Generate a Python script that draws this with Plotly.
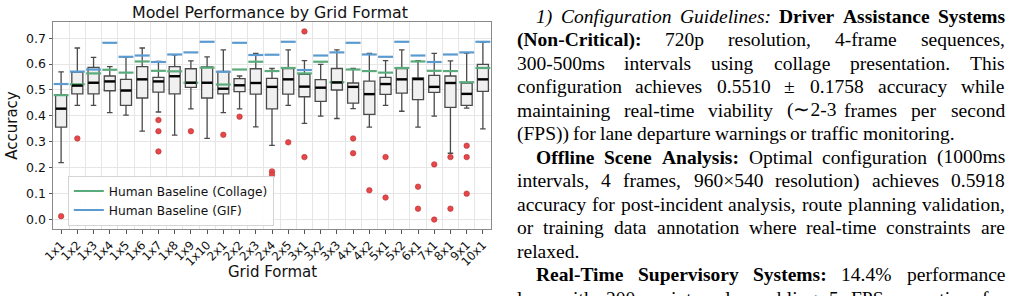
import plotly.graph_objects as go

# ---------------- data ----------------
categories = ["1x1", "1x2", "1x3", "1x4", "1x5", "1x6", "1x7", "1x8", "1x9", "1x10",
              "2x1", "2x2", "2x3", "2x4", "2x5", "3x1", "3x2", "3x3", "4x1", "4x2",
              "5x1", "5x2", "6x1", "7x1", "8x1", "9x1", "10x1"]
whisker_low = [0.220, 0.441, 0.441, 0.413, 0.403, 0.341, 0.415, 0.326, 0.427, 0.313,
               0.413, 0.427, 0.358, 0.286, 0.441, 0.371, 0.399, 0.390, 0.428, 0.357,
               0.441, 0.418, 0.357, 0.399, 0.256, 0.430, 0.350]
q1 = [0.357, 0.485, 0.485, 0.497, 0.441, 0.469, 0.492, 0.485, 0.510, 0.469,
      0.485, 0.494, 0.484, 0.427, 0.484, 0.474, 0.456, 0.500, 0.449, 0.406,
      0.483, 0.488, 0.463, 0.491, 0.433, 0.441, 0.495]
median = [0.428, 0.517, 0.528, 0.533, 0.498, 0.541, 0.533, 0.553, 0.528, 0.528,
          0.505, 0.518, 0.527, 0.512, 0.541, 0.513, 0.509, 0.529, 0.512, 0.484,
          0.523, 0.541, 0.542, 0.512, 0.527, 0.485, 0.541]
q3 = [0.482, 0.569, 0.587, 0.554, 0.541, 0.590, 0.549, 0.590, 0.582, 0.589,
      0.572, 0.544, 0.582, 0.545, 0.583, 0.560, 0.540, 0.583, 0.527, 0.534,
      0.549, 0.583, 0.547, 0.556, 0.554, 0.527, 0.599]
whisker_high = [0.570, 0.662, 0.626, 0.590, 0.626, 0.662, 0.610, 0.636, 0.612, 0.628,
                0.655, 0.554, 0.641, 0.583, 0.655, 0.613, 0.599, 0.655, 0.583, 0.641,
                0.613, 0.655, 0.613, 0.641, 0.612, 0.642, 0.684]
baseline_collage = [0.480, 0.522, 0.564, 0.578, 0.567, 0.610, 0.574, 0.572, 0.528, 0.586,
                    0.521, 0.579, 0.609, 0.573, 0.585, 0.564, 0.609, 0.530, 0.579, 0.573,
                    0.567, 0.585, 0.610, 0.574, 0.573, 0.530, 0.585]
baseline_gif = [0.523, 0.571, 0.579, 0.682, 0.628, 0.633, 0.608, 0.637, 0.645, 0.686,
                0.570, 0.682, 0.635, 0.636, 0.686, 0.577, 0.633, 0.645, 0.682, 0.637,
                0.628, 0.686, 0.633, 0.608, 0.637, 0.645, 0.686]
outlier_cat = ["1x1", "1x2", "1x7", "1x7", "1x7", "1x9", "2x1", "2x2", "2x4", "2x4",
               "2x5", "3x1", "3x1", "4x1", "4x1", "4x2", "5x1", "5x1", "6x1", "6x1",
               "7x1", "7x1", "8x1", "8x1", "9x1", "9x1", "9x1"]
outlier_val = [0.013, 0.313, 0.384, 0.341, 0.263, 0.341, 0.327, 0.397, 0.186, 0.173,
               0.298, 0.726, 0.241, 0.313, 0.256, 0.113, 0.241, 0.085, 0.127, 0.042,
               0.213, 0.000, 0.241, 0.042, 0.285, 0.241, 0.100]
y_ticks = [0.0, 0.1, 0.2, 0.3, 0.4, 0.5, 0.6, 0.7]

# --------------- text column ----------------
# each line: (list of (word, style), justified?, indented?)
text_lines = [
    ([("1)", "i"), ("Configuration", "i"), ("Guidelines:", "i"), ("Driver", "b"), ("Assistance", "b"), ("Systems", "b")], True, True),
    ([("(Non-Critical):", "b"), ("720p", "r"), ("resolution,", "r"), ("4-frame", "r"), ("sequences,", "r")], True, False),
    ([("300-500ms", "r"), ("intervals", "r"), ("using", "r"), ("collage", "r"), ("presentation.", "r"), ("This", "r")], True, False),
    ([("configuration", "r"), ("achieves", "r"), ("0.5510", "r"), ("±", "r"), ("0.1758", "r"), ("accuracy", "r"), ("while", "r")], True, False),
    ([("maintaining", "r"), ("real-time", "r"), ("viability", "r"), ("(∼2-3", "r"), ("frames", "r"), ("per", "r"), ("second", "r")], True, False),
    ([("(FPS))", "r"), ("for", "r"), ("lane", "r"), ("departure", "r"), ("warnings", "r"), ("or", "r"), ("traffic", "r"), ("monitoring.", "r")], False, False),
    ([("Offline", "b"), ("Scene", "b"), ("Analysis:", "b"), ("Optimal", "r"), ("configuration", "r"), ("(1000ms", "r")], True, True),
    ([("intervals,", "r"), ("4", "r"), ("frames,", "r"), ("960×540", "r"), ("resolution)", "r"), ("achieves", "r"), ("0.5918", "r")], True, False),
    ([("accuracy", "r"), ("for", "r"), ("post-incident", "r"), ("analysis,", "r"), ("route", "r"), ("planning", "r"), ("validation,", "r")], True, False),
    ([("or", "r"), ("training", "r"), ("data", "r"), ("annotation", "r"), ("where", "r"), ("real-time", "r"), ("constraints", "r"), ("are", "r")], True, False),
    ([("relaxed.", "r")], False, False),
    ([("Real-Time", "b"), ("Supervisory", "b"), ("Systems:", "b"), ("14.4%", "r"), ("performance", "r")], True, True),
    ([("loss", "r"), ("with", "r"), ("200ms", "r"), ("intervals", "r"), ("enabling", "r"), ("5", "r"), ("FPS", "r"), ("operation", "r"), ("for", "r")], True, False),
]

# Times metrics (1/1000 em)
def _tab(upper, lower, extra):
    t = {}
    for ch, w in zip("ABCDEFGHIJKLMNOPQRSTUVWXYZ", upper):
        t[ch] = w
    for ch, w in zip("abcdefghijklmnopqrstuvwxyz", lower):
        t[ch] = w
    for d in "0123456789":
        t[d] = 500
    t.update(extra)
    return t

REG = _tab([722, 667, 667, 722, 611, 556, 722, 722, 333, 389, 722, 611, 889, 722, 722, 556, 722, 667, 556, 611, 722, 722, 944, 722, 722, 611],
           [444, 500, 444, 500, 444, 333, 500, 500, 278, 278, 500, 278, 778, 500, 500, 500, 500, 333, 389, 278, 500, 500, 722, 500, 500, 444],
           {" ": 250, "(": 333, ")": 333, ",": 250, "-": 333, ".": 250, ":": 278, "%": 833, "±": 564, "×": 564, "∼": 541})
BOLD = _tab([722, 667, 722, 722, 667, 611, 778, 778, 389, 500, 778, 667, 944, 722, 778, 611, 778, 722, 556, 667, 722, 722, 1000, 722, 722, 667],
            [500, 556, 444, 556, 444, 333, 500, 556, 278, 333, 556, 278, 833, 556, 500, 556, 556, 444, 389, 333, 556, 500, 722, 500, 500, 444],
            {" ": 250, "(": 333, ")": 333, ",": 250, "-": 333, ".": 250, ":": 333, "%": 1000})
ITAL = _tab([611, 611, 667, 722, 611, 611, 722, 722, 333, 444, 667, 556, 833, 667, 722, 611, 722, 611, 500, 556, 722, 611, 833, 611, 556, 556],
            [500, 500, 444, 500, 444, 278, 500, 500, 278, 278, 444, 278, 722, 500, 500, 500, 500, 389, 389, 278, 500, 444, 667, 444, 444, 389],
            {" ": 250, "(": 333, ")": 333, ",": 250, "-": 333, ".": 250, ":": 333})
TABLES = {"r": REG, "b": BOLD, "i": ITAL}

# --------------- layout geometry ----------------
W, H = 1018, 296
PL, PR, PT, PB = 48, 491, 22, 229
FS = 19.5
TX0, TX1, INDENT = 517, 1010, 19.5
LINE = 23.47
Y0 = 16.5

def px_to_paper(px, py):
    return (px - PL) / (PR - PL), (PB - py) / (PB - PT)

pos = list(range(len(categories)))
idx = {c: i for i, c in enumerate(categories)}

fig = go.Figure()

fig.add_trace(go.Box(
    x=pos, q1=q1, median=median, q3=q3, lowerfence=whisker_low, upperfence=whisker_high,
    width=0.68, whiskerwidth=0.5, fillcolor="#f0f0f0",
    line=dict(color="#4a4a4a", width=1.3), showlegend=False, hoverinfo="skip"))


def segments(vals, half):
    xs, ys = [], []
    for i, v in enumerate(vals):
        xs += [i - half, i + half, None]
        ys += [v, v, None]
    return xs, ys

gx, gy = segments(baseline_collage, 0.46)
fig.add_trace(go.Scatter(x=gx, y=gy, mode="lines", name="Human Baseline (Collage)",
                         line=dict(color="#5aab7b", width=2.2), hoverinfo="skip"))
bx, by = segments(baseline_gif, 0.46)
fig.add_trace(go.Scatter(x=bx, y=by, mode="lines", name="Human Baseline (GIF)",
                         line=dict(color="#5b9bd0", width=2.2), hoverinfo="skip"))

mx, my = segments(median, 0.33)
fig.add_trace(go.Scatter(x=mx, y=my, mode="lines", showlegend=False,
                         line=dict(color="#000000", width=2.4), hoverinfo="skip"))

fig.add_trace(go.Scatter(x=[idx[c] for c in outlier_cat], y=outlier_val, mode="markers",
                         showlegend=False, hoverinfo="skip",
                         marker=dict(color="#e8474a", size=5.5, line=dict(color="#b03030", width=0.6))))

annotations = []
for k, (words, justify, indent) in enumerate(text_lines):
    y = Y0 + k * LINE
    x0 = TX0 + (INDENT if indent else 0)
    widths = [sum(TABLES[s].get(ch, 500) for ch in w) * FS / 1000.0 for w, s in words]
    if justify and len(words) > 1:
        gap = (TX1 - x0 - sum(widths)) / (len(words) - 1)
    else:
        gap = 250 * FS / 1000.0
    x = x0
    for (w, s), wd in zip(words, widths):
        txt = w if s == "r" else ("<b>%s</b>" % w if s == "b" else "<i>%s</i>" % w)
        xp, yp = px_to_paper(x, y)
        annotations.append(dict(x=xp, y=yp, xref="paper", yref="paper", xanchor="left",
                                yanchor="middle", text=txt, showarrow=False,
                                borderpad=0, borderwidth=0,
                                font=dict(family="Liberation Serif", size=FS, color="#000")))
        x += wd + gap

# x-axis title placed at the reference position
gxp, gyp = px_to_paper(270, 272)
annotations.append(dict(x=gxp, y=gyp, xref="paper", yref="paper", xanchor="center",
                        yanchor="middle", text="Grid Format", showarrow=False,
                        font=dict(family="DejaVu Sans", size=15, color="#111")))

fig.update_layout(
    width=W, height=H,
    margin=dict(l=PL, r=W - PR, t=PT, b=H - PB, pad=0),
    paper_bgcolor="white", plot_bgcolor="white",
    font=dict(family="DejaVu Sans", color="#111111"),
    title=dict(text="Model Performance by Grid Format", x=270 / W, xanchor="center",
               y=1 - 12 / H, yanchor="middle", font=dict(size=15.8, color="#111111")),
    showlegend=True,
    legend=dict(x=px_to_paper(63, 0)[0], y=px_to_paper(0, 225.5)[1], xanchor="left", yanchor="bottom",
                bgcolor="rgba(255,255,255,0.9)", bordercolor="#d4d4d4", borderwidth=1,
                font=dict(size=12.2, family="DejaVu Sans", color="#111"), itemwidth=30,
                traceorder="normal"),
    xaxis=dict(range=[-0.5, 26.5], tickmode="array", tickvals=pos, ticktext=categories,
               tickangle=-45, tickfont=dict(size=11.8), ticks="outside", ticklen=3.5,
               tickcolor="#555", showgrid=False, zeroline=False,
               minor=dict(tickmode="array", tickvals=[i + 0.5 for i in range(-1, 27)],
                          showgrid=True, gridcolor="#e6e6e6", gridwidth=0.8, ticks=""),
               showline=True, linecolor="#8a8a8a", linewidth=1, mirror=True),
    yaxis=dict(range=[-0.0363, 0.7623], tickmode="array", tickvals=y_ticks,
               ticktext=["%.1f" % v for v in y_ticks], tickfont=dict(size=12.5),
               ticks="outside", ticklen=3.5, tickcolor="#555",
               showgrid=True, gridcolor="#e6e6e6", gridwidth=0.8, zeroline=False,
               showline=True, linecolor="#8a8a8a", linewidth=1, mirror=True,
               title=dict(text="Accuracy", font=dict(size=15), standoff=4)),
    annotations=annotations,
)

fig.write_html("out.html")
